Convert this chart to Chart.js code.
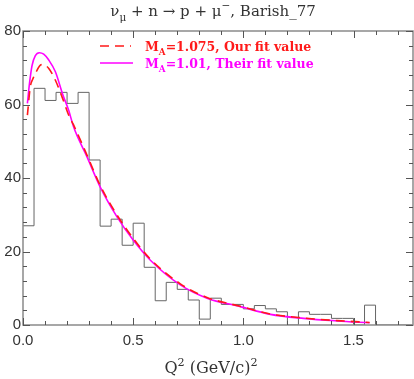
<!DOCTYPE html>
<html>
<head>
<meta charset="UTF-8">
<title>Barish_77 Q2</title>
<script src="https://cdn.jsdelivr.net/npm/chart.js"></script>
<style>
  body { margin:0; background:#fff; }
  #wrap { width:414px; height:379px; }
</style>
</head>
<body>
<div id="wrap"><canvas id="c" width="414" height="379"></canvas></div>
<script>
// histogram: lower bin edges (GeV/c)^2 and counts
const binEdges = [0.00,0.05,0.10,0.15,0.20,0.25,0.30,0.35,0.40,0.45,0.50,0.55,0.60,0.65,0.70,0.75,
  0.80,0.85,0.90,0.95,1.00,1.05,1.10,1.15,1.20,1.25,1.30,1.35,1.40,1.45,1.50,1.55,1.60,1.77];
const binCounts = [27,64.4,61.1,63.3,60.3,63.3,44.9,26.9,28.8,21.7,27.7,15.7,6.6,11.6,9.7,6.8,
  1.6,7.3,5.6,5.6,4.4,5.3,4.4,3.6,0,3.6,2.9,2.9,1.8,1.8,0,5.4,0,0];

// M_A = 1.075 (our fit)
const ourQ2 = [0.02,0.033,0.045,0.056,0.075,0.09,0.117,0.147,0.18,0.208,0.229,0.29,0.35,0.426,0.5,0.577,0.714,0.835,0.986,1.123,1.274,1.426,1.573];
const ourFit = [57.1,64.8,67,68.4,70.5,70.9,69.8,66.6,61.6,57,54.5,46.3,38,30,23.6,18,11.2,7.5,5.1,3.0,1.9,1.2,0.7];

// M_A = 1.01 (their fit)
const theirQ2 = [0.02,0.03,0.041,0.056,0.074,0.094,0.117,0.147,0.18,0.208,0.229,0.29,0.35,0.426,0.5,0.577,0.714,0.835,0.986,1.123,1.274,1.426,1.573];
const theirFit = [60.3,66,70.6,73.3,74.1,73.7,72.1,68.9,62.8,58.3,54,45.8,37.6,29.5,23.1,17.7,10.9,7.3,5.0,2.9,1.8,1.1,0.6];

const xTicks = [0, 0.5, 1.0, 1.5];
const yTicks = [0, 20, 40, 60, 80];

const pts = (xs, ys) => xs.map((x, i) => ({x: x, y: ys[i]}));

// draws text pieces with sub/superscripts; returns width
function drawRich(ctx, parts, x, y, size, fam, color, measureOnly, weight) {
  let cx = x;
  parts.forEach(p => {
    const s = p.sub || p.sup ? size * 0.7 : size;
    ctx.font = (weight || '') + ' ' + s + 'px ' + fam;
    const dy = p.sub ? size * 0.3 : (p.sup ? -size * 0.45 : 0);
    if (!measureOnly) {
      ctx.fillStyle = p.color || color;
      ctx.fillText(p.t, cx, y + dy);
    }
    cx += ctx.measureText(p.t).width;
  });
  return cx - x;
}

const framePlugin = {
  id: 'frame',
  afterDraw(chart) {
    const ctx = chart.ctx, a = chart.chartArea;
    const xs = chart.scales.x, ys = chart.scales.y;
    ctx.save();
    // box
    ctx.strokeStyle = '#8a8a8a';
    ctx.lineWidth = 1.5;
    ctx.strokeRect(a.left, a.top, a.right - a.left, a.bottom - a.top);
    // ticks pointing inward, all sides
    ctx.strokeStyle = '#555';
    ctx.lineWidth = 1;
    ctx.beginPath();
    for (let k = 0; k <= 17; k++) {
      const v = k / 10;
      const px = Math.round(xs.getPixelForValue(v)) + 0.5;
      const len = (k % 5 === 0) ? 7 : 4;
      ctx.moveTo(px, a.bottom); ctx.lineTo(px, a.bottom - len);
      ctx.moveTo(px, a.top); ctx.lineTo(px, a.top + len);
    }
    for (let v = 0; v <= 80; v += 4) {
      const py = Math.round(ys.getPixelForValue(v)) + 0.5;
      const len = (v % 20 === 0) ? 7 : 4;
      ctx.moveTo(a.left, py); ctx.lineTo(a.left + len, py);
      ctx.moveTo(a.right, py); ctx.lineTo(a.right - len, py);
    }
    ctx.stroke();

    ctx.textBaseline = 'alphabetic';
    ctx.textAlign = 'left';
    // title
    const serif = '"DejaVu Serif", serif';
    const title = [
      {t: '\u03bd'}, {t: '\u03bc', sub: true}, {t: ' + n \u2192 p + \u03bc'}, {t: '\u2212', sup: true}, {t: ', Barish_77'}
    ];
    const tw = drawRich(ctx, title, 0, 0, 15, serif, '#333', true);
    drawRich(ctx, title, 213 - tw / 2, 16, 15, serif, '#333');

    // x axis title
    const xt = [{t: 'Q'}, {t: '2', sup: true}, {t: ' (GeV/c)'}, {t: '2', sup: true}];
    const xw = drawRich(ctx, xt, 0, 0, 16, serif, '#333', true);
    drawRich(ctx, xt, 211 - xw / 2, 373, 16, serif, '#333');

    // legend
    ctx.lineWidth = 1.5;
    ctx.strokeStyle = '#ff1a1a';
    ctx.setLineDash([9, 6]);
    ctx.beginPath(); ctx.moveTo(100, 46); ctx.lineTo(131, 46); ctx.stroke();
    ctx.setLineDash([]);
    ctx.strokeStyle = '#ff00ff';
    ctx.beginPath(); ctx.moveTo(100, 63); ctx.lineTo(133, 63); ctx.stroke();
    drawRich(ctx, [{t: 'M'}, {t: 'A', sub: true}, {t: '=1.075, Our fit value'}], 145, 51, 12.5, serif, '#ff1a1a', false, 'bold');
    drawRich(ctx, [{t: 'M'}, {t: 'A', sub: true}, {t: '=1.01, Their fit value'}], 145, 68, 12.5, serif, '#ff00ff', false, 'bold');
    ctx.restore();
  }
};

new Chart(document.getElementById('c'), {
  type: 'line',
  data: {
    datasets: [
      { label: 'MA=1.075, Our fit value', data: pts(ourQ2, ourFit), borderColor: '#ff1a1a',
        borderDash: [9, 6], borderWidth: 1.6, pointRadius: 0, cubicInterpolationMode: 'monotone', fill: false },
      { label: 'MA=1.01, Their fit value', data: pts(theirQ2, theirFit), borderColor: '#ff00ff',
        borderWidth: 1.6, pointRadius: 0, cubicInterpolationMode: 'monotone', fill: false },
      { label: 'data', data: pts(binEdges, binCounts), borderColor: '#666',
        borderWidth: 1, pointRadius: 0, stepped: 'before', fill: false }
    ]
  },
  options: {
    responsive: false,
    animation: false,
    layout: { padding: { top: 31, right: 1, left: 0, bottom: 0 } },
    plugins: { legend: { display: false }, tooltip: { enabled: false } },
    scales: {
      x: {
        type: 'linear', min: 0, max: 1.77,
        grid: { display: false, drawTicks: false },
        border: { display: false },
        afterFit(s) { s.height = 54; },
        afterBuildTicks(s) { s.ticks = xTicks.map(v => ({value: v})); },
        ticks: { color: '#333', padding: 7, maxRotation: 0, autoSkip: false,
          font: { family: '"Liberation Sans", Arial, sans-serif', size: 15 },
          callback: v => v.toFixed(1) }
      },
      y: {
        min: 0, max: 80,
        grid: { display: false, drawTicks: false },
        border: { display: false },
        afterFit(s) { s.width = 23; },
        afterBuildTicks(s) { s.ticks = yTicks.map(v => ({value: v})); },
        ticks: { color: '#333', padding: 2,
          font: { family: '"Liberation Sans", Arial, sans-serif', size: 15 } }
      }
    }
  },
  plugins: [framePlugin]
});
</script>
</body>
</html>
